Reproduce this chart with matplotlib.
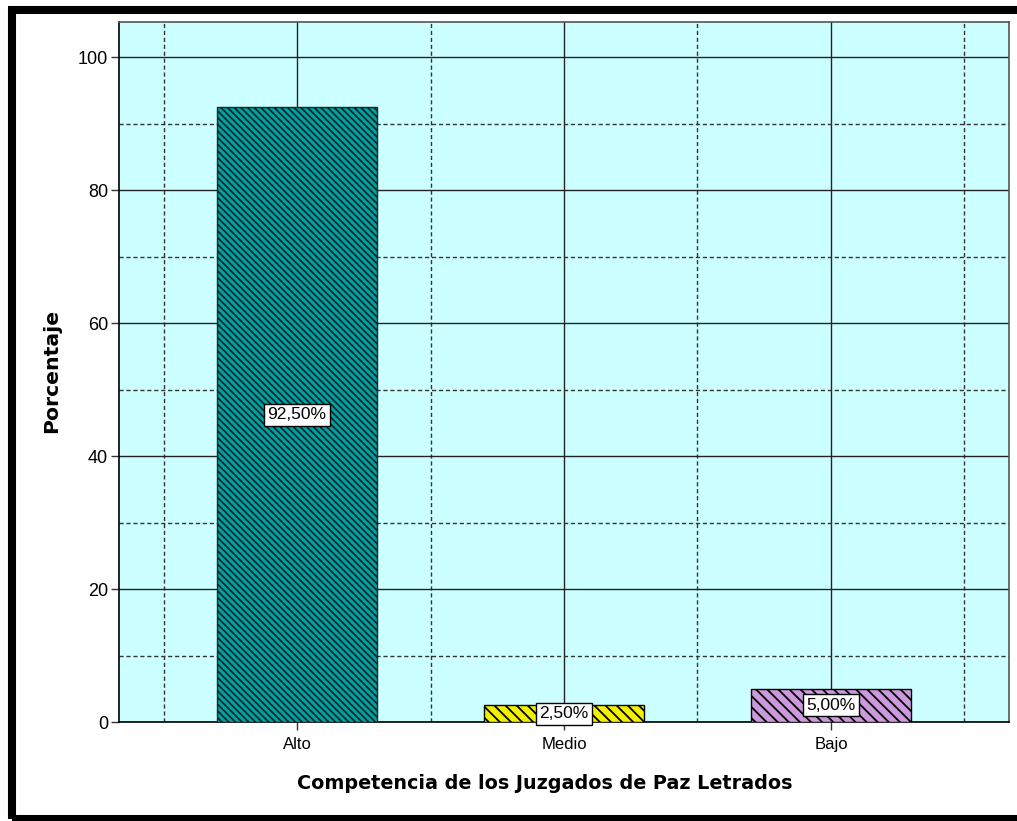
import matplotlib
matplotlib.use("Agg")
import matplotlib.pyplot as plt
from matplotlib.patches import Rectangle
from matplotlib.ticker import MultipleLocator, FixedLocator

categories = ["Alto", "Medio", "Bajo"]
values = [92.5, 2.5, 5.0]
labels = ["92,50%", "2,50%", "5,00%"]
face_colors = ["#00a3a3", "#f2f200", "#cc99dd"]
hatches = ["\\\\\\\\\\", "\\\\\\", "\\\\\\"]

plt.rcParams["font.family"] = ["Liberation Sans", "DejaVu Sans"]
plt.rcParams["hatch.linewidth"] = 1.3

W, H = 1017, 821
fig = plt.figure(figsize=(W / 100, H / 100), dpi=100)
fig.patch.set_facecolor("white")

ax = fig.add_axes([119 / W, (H - 722) / H, 890 / W, 700 / H])
ax.set_facecolor("#ccffff")

x = list(range(len(categories)))
bars = ax.bar(x, values, width=0.6, color=face_colors, edgecolor="black",
              linewidth=1.0, zorder=3)
for b, h in zip(bars, hatches):
    b.set_hatch(h)
bars[0].set_edgecolor("#0a2a2a")

for xi, v, lab in zip(x, values, labels):
    ax.text(xi, v / 2, lab, ha="center", va="center", fontsize=12.5, zorder=5,
            bbox=dict(boxstyle="square,pad=0.2", facecolor="white",
                      edgecolor="black", linewidth=1.0))

ax.set_xlim(-0.667, 2.667)
ax.set_ylim(0, 105.3)
ax.set_xticks(x)
ax.set_xticklabels(categories)
ax.xaxis.set_minor_locator(FixedLocator([-0.5, 0.5, 1.5, 2.5]))
ax.yaxis.set_major_locator(MultipleLocator(20))
ax.yaxis.set_minor_locator(FixedLocator([10, 30, 50, 70, 90]))

ax.set_axisbelow(True)
ax.grid(which="major", color="#222222", linestyle="-", linewidth=1.0, zorder=0)
ax.grid(which="minor", color="#333333", linestyle=(0, (3, 2)), linewidth=1.0, zorder=0)

ax.tick_params(axis="both", which="major", direction="out", length=6,
               width=1.0, color="#333333")
ax.tick_params(axis="x", which="major", labelsize=12, pad=5)
ax.tick_params(axis="y", which="major", labelsize=13, pad=2)
ax.tick_params(axis="both", which="minor", length=0)

for side in ["left", "bottom"]:
    ax.spines[side].set_color("black")
    ax.spines[side].set_linewidth(1.2)
for side in ["top", "right"]:
    ax.spines[side].set_color("#555555")
    ax.spines[side].set_linewidth(1.2)

fig.text(52 / W, (H - 371) / H, "Porcentaje", rotation=90, ha="center",
         va="center", fontsize=14.7, fontweight="bold", family=["DejaVu Sans"])
fig.text(545 / W, (H - 783) / H, "Competencia de los Juzgados de Paz Letrados",
         ha="center", va="center", fontsize=13.8, fontweight="bold",
         family=["DejaVu Sans"])

# thick black frame around the whole figure
fig.add_artist(Rectangle((12 / W, 2 / H), (1030 - 12) / W, (811 - 2) / H,
                         transform=fig.transFigure, fill=False,
                         edgecolor="black", linewidth=5.8, clip_on=False))

fig.savefig("out.png", dpi=100)
